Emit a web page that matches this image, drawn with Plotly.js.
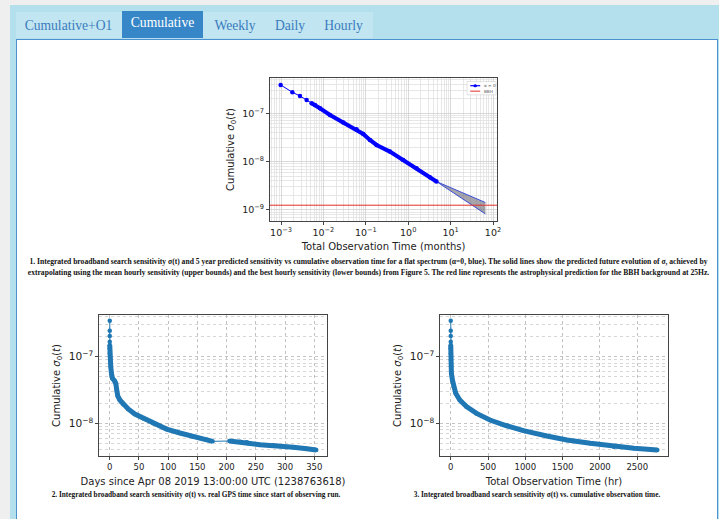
<!DOCTYPE html>
<html><head><meta charset="utf-8">
<script src="https://cdn.plot.ly/plotly-3.0.1.min.js"></script>
<style>
body{margin:0;background:#efefef;width:719px;height:519px;overflow:hidden;position:relative;font-family:'Liberation Serif','Times New Roman',serif;}
#outer{position:absolute;left:10px;top:5px;width:720px;height:530px;background:#b4dfec;}
#tabs{position:absolute;left:16px;top:12px;width:357px;height:26px;background:#c1e6f1;}
.tab{position:absolute;top:12px;height:26px;line-height:28px;font-size:13.6px;color:#3b7bbd;text-align:center;}
#active{background:#3787c8;color:#fff;top:11px;height:27px;line-height:24px;}
#panel{position:absolute;left:16px;top:39px;width:700px;height:500px;background:#fff;border:1.5px solid #4b91cf;}
.chart{position:absolute;}
.cap{position:absolute;font-weight:bold;color:#111;white-space:nowrap;text-align:center;line-height:11px;}
</style></head>
<body>
<div id="outer"></div>
<div id="tabs"></div>
<div class="tab" style="left:17px;width:103px;">Cumulative+O1</div>
<div class="tab" id="active" style="left:122px;width:81px;">Cumulative</div>
<div class="tab" style="left:205px;width:60px;">Weekly</div>
<div class="tab" style="left:266px;width:48px;">Daily</div>
<div class="tab" style="left:315px;width:57px;">Hourly</div>
<div id="panel"></div>
<div class="chart" id="c1" style="left:200px;top:62px;width:320px;height:195px;"></div>
<div class="cap" style="left:0;width:737px;top:256px;font-size:7.6px;">1. Integrated broadband search sensitivity σ(t) and 5 year predicted sensitivity vs cumulative observation time for a flat spectrum (α=0, blue). The solid lines show the predicted future evolution of σ, achieved by<br>extrapolating using the mean hourly sensitivity (upper bounds) and the best hourly sensitivity (lower bounds) from Figure 5. The red line represents the astrophysical prediction for the BBH background at 25Hz.</div>
<div class="chart" id="c2" style="left:40px;top:300px;width:330px;height:200px;"></div>
<div class="chart" id="c3" style="left:380px;top:300px;width:310px;height:200px;"></div>
<div class="cap" style="left:46px;width:300px;top:489px;font-size:7.3px;">2. Integrated broadband search sensitivity σ(t) vs. real GPS time since start of observing run.</div>
<div class="cap" style="left:387px;width:300px;top:489px;font-size:7.3px;">3. Integrated broadband search sensitivity σ(t) vs. cumulative observation time.</div>
<script>
// ---- Chart 1: cumulative sensitivity vs observation time (months), log-log ----
const c1Months = [0.00098, 0.00185, 0.0028, 0.00402, 0.00527, 0.00632, 0.00828, 0.0143, 0.0294, 0.0605, 0.0869, 0.125, 0.179, 0.369, 0.76, 1.57, 3.23, 4.63];
const c1Sigma  = [3.86e-7, 2.72e-7, 2.28e-7, 1.89e-7, 1.61e-7, 1.49e-7, 1.27e-7, 9.24e-8, 6.41e-8, 4.67e-8, 3.74e-8, 2.81e-8, 2.21e-8, 1.61e-8, 1.08e-8, 7.27e-9, 4.74e-9, 3.86e-9];
const c1DenseFrom = 4;
const c1ExtMonths = [4.63, 16.4, 66];
const c1ExtUpper  = [3.86e-9, 2.39e-9, 1.42e-9];
const c1ExtLower  = [3.86e-9, 1.89e-9, 8.26e-10];
const bbhSigma = 1.25e-9;
const c1Legend = ['α = 0', 'BBH'];
const c1XTickExp = [-4, -3, -2, -1, 0, 1, 2];
const c1YTickExp = [-10, -9, -8, -7];
const c1XRange = [-3.26, 2.094];
const c1YRange = [-9.23, -6.27];

// ---- Chart 2: cumulative sensitivity vs days since Apr 08 2019 ----
const c2Days  = [0, 0, 0, 0, 0, 0, 0.05, 0.5, 1.7, 2.9, 4.6, 8.0, 10.3, 12.0, 13.7, 17.2, 22.9, 31.5, 42.9, 57.2, 74.3, 97.2, 120, 143, 166, 176, 204.7, 223, 234.5, 237, 257, 280, 286, 314.5, 337.4, 353.4];
const c2Sigma = [3.47e-7, 2.45e-7, 2.04e-7, 1.68e-7, 1.50e-7, 1.33e-7, 1.12e-7, 8.9e-8, 7.1e-8, 5.6e-8, 4.73e-8, 4.37e-8, 3.98e-8, 3.16e-8, 2.57e-8, 2.24e-8, 1.93e-8, 1.64e-8, 1.38e-8, 1.19e-8, 1.0e-8, 8.2e-9, 7.16e-9, 6.31e-9, 5.69e-9, 5.37e-9, 5.43e-9, 5.31e-9, 5.19e-9, 5.01e-9, 4.79e-9, 4.68e-9, 4.62e-9, 4.37e-9, 4.17e-9, 3.98e-9];
const c2DenseFrom = 4;
const c2GapAfterDay = 176;   // no data between ~176 and ~205 days
const c2XRange = [-18.4, 371.8];
const c2YRange = [-8.49, -6.375];

// ---- Chart 3: cumulative sensitivity vs total observation time (hr) ----
const c3Hours = [0, 0, 0, 0, 0, 0, 1, 2, 4, 9, 22, 40, 67, 121, 211, 346, 525, 750, 974, 1288, 1557, 1871, 2186, 2455, 2769];
const c3Sigma = [3.47e-7, 2.45e-7, 2.04e-7, 1.68e-7, 1.50e-7, 1.33e-7, 1.12e-7, 8.9e-8, 7.1e-8, 5.6e-8, 4.47e-8, 3.55e-8, 2.82e-8, 2.24e-8, 1.78e-8, 1.41e-8, 1.12e-8, 9.2e-9, 7.76e-9, 6.46e-9, 5.62e-9, 5.01e-9, 4.47e-9, 4.22e-9, 3.98e-9];
const c3DenseFrom = 4;
const c3XRange = [-144, 2912];
const c3YRange = [-8.49, -6.375];

const yTitle = 'Cumulative <i>σ</i><sub>0</sub>(<i>t</i>)';
const tickFont = {family:'DejaVu Sans', size:8.5, color:'#222'};
const tickFont1 = {family:'DejaVu Sans', size:9.5, color:'#222'};
const titleFont = {family:'DejaVu Sans', size:10, color:'#222'};
const grid = {showgrid:true, gridcolor:'#c2c2c2', griddash:'dot', gridwidth:1};
const minorGrid = {showgrid:true, gridcolor:'#d6d6d6', griddash:'dot', gridwidth:1, ticks:''};
// chart 1 has a very dense grid: light solid lines read like the fine dotted original
const grid1 = {showgrid:true, gridcolor:'#cfcfcf', griddash:'solid', gridwidth:0.8};
const minorGrid1 = {showgrid:true, gridcolor:'#e1e1e1', griddash:'solid', gridwidth:0.8, ticks:''};
function axisBase(extra, g){
  return Object.assign({showline:true, mirror:true, linecolor:'#444', linewidth:1, ticks:'outside', ticklen:3, tickcolor:'#444', tickfont:tickFont, zeroline:false, automargin:false}, g || grid, extra);
}
function powLabel(e){ return '10<sup>' + (e < 0 ? '\u2212' + (-e) : e) + '</sup>'; }
// log minor grid positions (2..9 within each decade)
function logMinor(exps){
  const v=[]; exps.forEach(e=>{ for(let k=2;k<=9;k++) v.push(k*Math.pow(10,e)); }); return v;
}
// dense (thick) segment, broken after a given x value
function denseSeg(xs, ys, from, gapAfter){
  const X=[], Y=[];
  for(let i=from;i<xs.length;i++){
    if(i>from && gapAfter!==null && xs[i-1] <= gapAfter && xs[i] > gapAfter){ X.push(null); Y.push(null); }
    X.push(xs[i]); Y.push(ys[i]);
  }
  return {X, Y};
}
const cfg = {staticPlot:true, displayModeBar:false};

// Chart 1
const d1 = denseSeg(c1Months, c1Sigma, c1DenseFrom, null);
// legend drawn as a small matplotlib-like box (paper coordinates)
const lg = {x0:0.868, x1:0.996, y0:0.882, y1:0.975};
const lgShapes = [
  {type:'rect', xref:'paper', yref:'paper', x0:lg.x0, x1:lg.x1, y0:lg.y0, y1:lg.y1, fillcolor:'rgba(255,255,255,0.9)', line:{color:'#d0d0d0', width:0.6}},
  {type:'line', xref:'paper', yref:'paper', x0:0.882, x1:0.926, y0:0.946, y1:0.946, line:{color:'#0000ff', width:1.2}},
  {type:'circle', xref:'paper', yref:'paper', x0:0.896, x1:0.912, y0:0.935, y1:0.957, fillcolor:'#0000ff', line:{width:0}},
  {type:'line', xref:'paper', yref:'paper', x0:0.882, x1:0.926, y0:0.908, y1:0.908, line:{color:'#e0312b', width:1}}
];
const lgAnn = [
  {xref:'paper', yref:'paper', x:0.936, y:0.946, xanchor:'left', yanchor:'middle', text:c1Legend[0], showarrow:false, font:{family:'DejaVu Sans', size:4.2, color:'#555'}},
  {xref:'paper', yref:'paper', x:0.936, y:0.908, xanchor:'left', yanchor:'middle', text:c1Legend[1], showarrow:false, font:{family:'DejaVu Sans', size:4.2, color:'#555'}}
];
Plotly.newPlot('c1', [
  {x:c1ExtMonths, y:c1ExtLower, mode:'lines', line:{color:'#3d4fd6', width:1}},
  {x:c1ExtMonths, y:c1ExtUpper, mode:'lines', line:{color:'#3d4fd6', width:1}, fill:'tonexty', fillcolor:'rgba(105,105,115,0.6)'},
  {x:d1.X, y:d1.Y, mode:'lines', line:{color:'#0000ff', width:4}},
  {x:c1Months, y:c1Sigma, mode:'lines+markers', name:c1Legend[0], line:{color:'#0000ff', width:1}, marker:{color:'#0000ff', size:4.5}},
  {x:[Math.pow(10,c1XRange[0]-1), Math.pow(10,c1XRange[1]+1)], y:[bbhSigma, bbhSigma], mode:'lines', name:c1Legend[1], line:{color:'#e0312b', width:1}}
], {
  width:320, height:195, margin:{l:70, r:23, t:16, b:36}, showlegend:false,
  paper_bgcolor:'rgba(0,0,0,0)', plot_bgcolor:'#fff',
  xaxis: axisBase({type:'log', range:c1XRange, tickvals:c1XTickExp.map(e=>Math.pow(10,e)), ticktext:c1XTickExp.map(powLabel), tickfont:tickFont1,
    minor:Object.assign({tickmode:'array', tickvals:logMinor(c1XTickExp)}, minorGrid1),
    title:{text:'Total Observation Time (months)', font:titleFont, standoff:5}}, grid1),
  yaxis: axisBase({type:'log', range:c1YRange, tickvals:c1YTickExp.map(e=>Math.pow(10,e)), ticktext:c1YTickExp.map(powLabel), tickfont:tickFont1,
    minor:Object.assign({tickmode:'array', tickvals:logMinor(c1YTickExp)}, minorGrid1),
    title:{text:yTitle, font:titleFont, standoff:5}}, grid1),
  shapes: lgShapes, annotations: lgAnn
}, cfg);

function lowerChart(id, w, l, xs, ys, from, gapAfter, xRange, yRange, dtick, xTitle){
  const d = denseSeg(xs, ys, from, gapAfter);
  Plotly.newPlot(id, [
    {x:xs, y:ys, mode:'lines+markers', line:{color:'#1f77b4', width:1}, marker:{color:'#1f77b4', size:4.5}, showlegend:false},
    {x:d.X, y:d.Y, mode:'lines', line:{color:'#1f77b4', width:5}, connectgaps:false, showlegend:false}
  ], {
    width:w, height:200, margin:{l:l, r:w-l-227.4, t:15, b:44},
    paper_bgcolor:'rgba(0,0,0,0)', plot_bgcolor:'#fff',
    xaxis: axisBase({range:xRange, dtick:dtick, title:{text:xTitle, font:titleFont, standoff:6}}),
    yaxis: axisBase({type:'log', range:yRange, dtick:1, exponentformat:'power', minor:minorGrid,
      title:{text:yTitle, font:titleFont, standoff:6}})
  }, cfg);
}
lowerChart('c2', 330, 59.3, c2Days, c2Sigma, c2DenseFrom, c2GapAfterDay, c2XRange, c2YRange, 50, 'Days since Apr 08 2019 13:00:00 UTC (1238763618)');
lowerChart('c3', 310, 60.3, c3Hours, c3Sigma, c3DenseFrom, null, c3XRange, c3YRange, 500, 'Total Observation Time (hr)');
</script>
</body></html>
